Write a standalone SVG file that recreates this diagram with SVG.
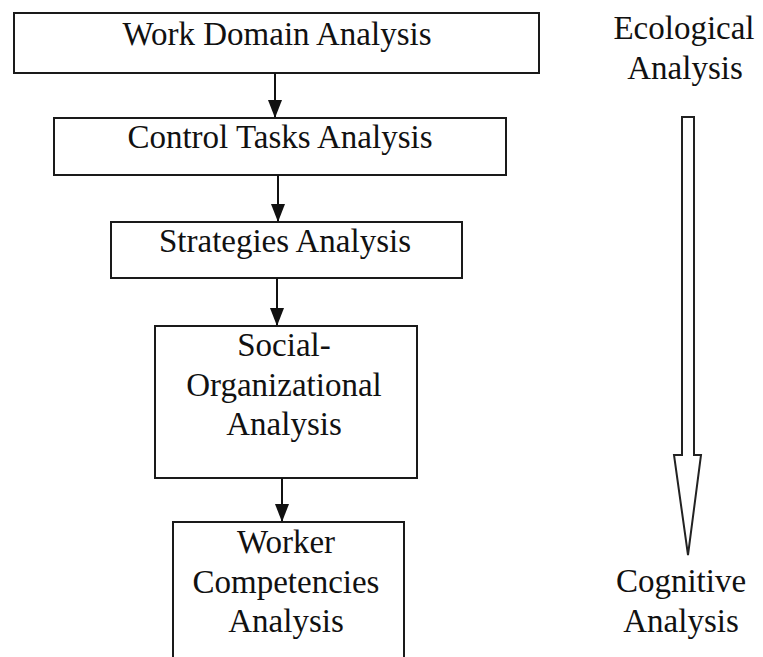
<svg xmlns="http://www.w3.org/2000/svg" width="763" height="657" viewBox="0 0 763 657">
<style>
.box{fill:#fff;stroke:#1a1a1a;stroke-width:2}
.t{font-family:"Liberation Serif","Times New Roman",serif;font-size:33px;fill:#111;text-anchor:middle}
.c{stroke:#111;stroke-width:2;fill:none}
.big{fill:#fff;stroke:#222;stroke-width:2;stroke-linejoin:miter}
</style>
<defs>
<marker id="ah" markerWidth="9" markerHeight="7" refX="8.5" refY="3.5" orient="auto" markerUnits="strokeWidth" viewBox="0 0 9 7">
<path d="M0,0 L9,3.5 L0,7 Z" fill="#111"/>
</marker>
</defs>
<rect width="763" height="657" fill="#fff"/>
<g id="n1"><rect class="box" x="14" y="13" width="525" height="60"/><text class="t" x="277" y="45">Work Domain Analysis</text></g>
<g id="n2"><rect class="box" x="54" y="118" width="452" height="57"/><text class="t" x="280" y="148">Control Tasks Analysis</text></g>
<g id="n3"><rect class="box" x="111" y="222" width="351" height="56"/><text class="t" x="285" y="252">Strategies Analysis</text></g>
<g id="n4"><rect class="box" x="155" y="326" width="262" height="152"/><text class="t" x="284" y="356">Social-</text><text class="t" x="284" y="396">Organizational</text><text class="t" x="284" y="435">Analysis</text></g>
<g id="n5"><rect class="box" x="173" y="522" width="231" height="145"/><text class="t" x="286" y="553">Worker</text><text class="t" x="286" y="593">Competencies</text><text class="t" x="286" y="632">Analysis</text></g>
<g id="labels"><text class="t" x="684" y="39">Ecological</text><text class="t" x="685" y="79">Analysis</text><text class="t" x="681" y="592">Cognitive</text><text class="t" x="681" y="632">Analysis</text></g>
<g id="connectors">
<line class="c" x1="275" y1="73" x2="275" y2="117" marker-end="url(#ah)"/>
<line class="c" x1="278" y1="175" x2="278" y2="221" marker-end="url(#ah)"/>
<line class="c" x1="277" y1="278" x2="277" y2="325" marker-end="url(#ah)"/>
<line class="c" x1="282" y1="478" x2="282" y2="521" marker-end="url(#ah)"/>
<path class="big" d="M682,117 L694,117 L694,455 L701,455 L688,555 L674,455 L682,455 Z"/>
</g>
</svg>
